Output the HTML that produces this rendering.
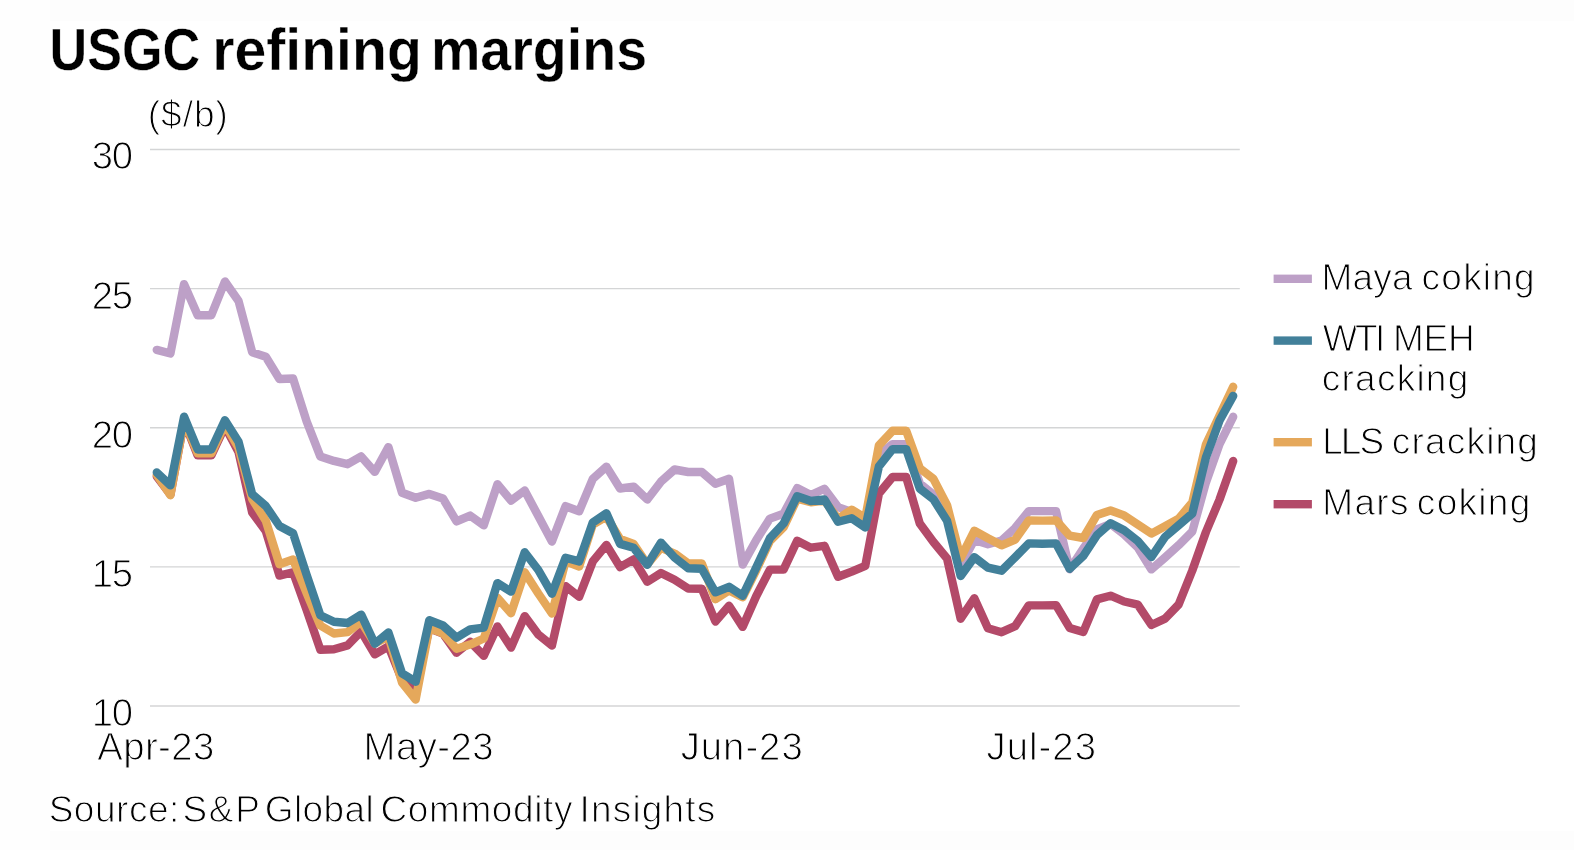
<!DOCTYPE html>
<html lang="en">
<head>
<meta charset="utf-8">
<title>USGC refining margins</title>
<style>
html,body{margin:0;padding:0;}
body{width:1574px;height:850px;overflow:hidden;background:#fefefe;font-family:"Liberation Sans",sans-serif;}
#wrap{position:absolute;left:0;top:0;width:1574px;height:850px;will-change:transform;}
#chart{position:absolute;left:0;top:0;width:1574px;height:850px;display:block;}
#chart text{font-family:"Liberation Sans",sans-serif;fill:#000;}
.thin text{stroke:#fff;stroke-width:1.1px;}
.title text{stroke:#fff;stroke-width:0.4px;}
.series{fill:none;stroke-linejoin:round;stroke-linecap:round;}
</style>
</head>
<body>
<div id="wrap">
<svg id="chart" width="1574" height="850" viewBox="0 0 1574 850">
<rect x="50" y="0" width="1524" height="850" fill="#fdfdfd"/>
<rect x="50" y="21" width="1524" height="810" fill="#ffffff"/>
<g class="title"><text x="49.6" y="69.6" font-size="58.8" font-weight="bold" textLength="150.6" lengthAdjust="spacingAndGlyphs">USGC</text><text x="212.3" y="69.6" font-size="58.8" font-weight="bold" textLength="209.5" lengthAdjust="spacingAndGlyphs">refining</text><text x="430.9" y="69.6" font-size="58.8" font-weight="bold" textLength="216.2" lengthAdjust="spacingAndGlyphs">margins</text></g>
<g stroke="#d4d5d6" stroke-width="1.4"><line x1="150" y1="149.5" x2="1239.8" y2="149.5"/><line x1="150" y1="288.6" x2="1239.8" y2="288.6"/><line x1="150" y1="427.75" x2="1239.8" y2="427.75"/><line x1="150" y1="566.9" x2="1239.8" y2="566.9"/><line x1="150" y1="706.0" x2="1239.8" y2="706.0"/></g>
<g class="thin"><text x="147.8" y="126.5" font-size="37" text-anchor="start" font-weight="normal" textLength="80" lengthAdjust="spacing">($/b)</text><text x="133.0" y="169.4" font-size="38.3" text-anchor="end" font-weight="normal" textLength="41.2" lengthAdjust="spacing">30</text><text x="133.0" y="308.5" font-size="38.3" text-anchor="end" font-weight="normal" textLength="41.2" lengthAdjust="spacing">25</text><text x="133.0" y="447.65" font-size="38.3" text-anchor="end" font-weight="normal" textLength="41.2" lengthAdjust="spacing">20</text><text x="133.0" y="586.8" font-size="38.3" text-anchor="end" font-weight="normal" textLength="41.2" lengthAdjust="spacing">15</text><text x="133.0" y="725.9" font-size="38.3" text-anchor="end" font-weight="normal" textLength="41.2" lengthAdjust="spacing">10</text><text x="155.8" y="760.2" font-size="38.3" text-anchor="middle" font-weight="normal" textLength="117" lengthAdjust="spacing">Apr-23</text><text x="428.6" y="760.2" font-size="38.3" text-anchor="middle" font-weight="normal" textLength="130" lengthAdjust="spacing">May-23</text><text x="741.7" y="760.2" font-size="38.3" text-anchor="middle" font-weight="normal" textLength="122" lengthAdjust="spacing">Jun-23</text><text x="1041.2" y="760.2" font-size="38.3" text-anchor="middle" font-weight="normal" textLength="109.5" lengthAdjust="spacing">Jul-23</text><text x="48.65" y="822" font-size="37" text-anchor="start" font-weight="normal" textLength="130.75" lengthAdjust="spacing">Source:</text><text x="182.5" y="822" font-size="37" text-anchor="start" font-weight="normal" textLength="77.4" lengthAdjust="spacing">S&amp;P</text><text x="264.8" y="822" font-size="37" text-anchor="start" font-weight="normal" textLength="108.95" lengthAdjust="spacing">Global</text><text x="380.4" y="822" font-size="37" text-anchor="start" font-weight="normal" textLength="192.1" lengthAdjust="spacing">Commodity</text><text x="579.6" y="822" font-size="37" text-anchor="start" font-weight="normal" textLength="135.65" lengthAdjust="spacing">Insights</text><text x="1321.55" y="290.3" font-size="37" text-anchor="start" font-weight="normal" textLength="91.0" lengthAdjust="spacing">Maya</text><text x="1421.6" y="290.3" font-size="37" text-anchor="start" font-weight="normal" textLength="113.1" lengthAdjust="spacing">coking</text><text x="1322.7" y="351.4" font-size="37" text-anchor="start" font-weight="normal" textLength="62.65" lengthAdjust="spacing">WTI</text><text x="1393.1" y="351.4" font-size="37" text-anchor="start" font-weight="normal" textLength="81.55" lengthAdjust="spacing">MEH</text><text x="1321.8" y="391.3" font-size="37" text-anchor="start" font-weight="normal" textLength="146.45" lengthAdjust="spacing">cracking</text><text x="1322.15" y="453.6" font-size="37" text-anchor="start" font-weight="normal" textLength="62.05" lengthAdjust="spacing">LLS</text><text x="1391.8" y="453.6" font-size="37" text-anchor="start" font-weight="normal" textLength="146.1" lengthAdjust="spacing">cracking</text><text x="1322.15" y="515.4" font-size="37" text-anchor="start" font-weight="normal" textLength="86.45" lengthAdjust="spacing">Mars</text><text x="1416.85" y="515.4" font-size="37" text-anchor="start" font-weight="normal" textLength="113.4" lengthAdjust="spacing">coking</text></g>
<rect x="1273.6" y="274.6" width="38.3" height="8.4" fill="#bda0c7"/><rect x="1273.6" y="336.4" width="38.3" height="8.4" fill="#42809a"/><rect x="1273.6" y="438.0" width="38.3" height="8.4" fill="#e5a85b"/><rect x="1273.6" y="500.0" width="38.3" height="8.4" fill="#b34a69"/>
<polyline class="series" stroke="#bda0c7" stroke-width="8.4" points="156.80,349.9 170.43,353.5 184.05,284.1 197.68,315.3 211.30,315.3 224.93,281.5 238.55,301.0 252.18,352.2 265.80,356.7 279.43,379.0 293.05,378.5 306.68,421.5 320.30,456.4 333.93,460.9 347.55,464.2 361.18,456.4 374.80,471.9 388.43,447.1 402.05,492.7 415.68,497.8 429.30,493.9 442.93,498.5 456.55,521.4 470.18,515.6 483.80,525.3 497.43,484.2 511.05,500.6 524.67,490.5 538.30,516.0 551.92,541.6 565.55,506.2 579.17,511.3 592.80,478.8 606.42,466.6 620.05,488.5 633.67,486.6 647.30,499.5 660.92,481.7 674.55,469.5 688.17,472.0 701.80,472.0 715.42,483.7 729.05,478.8 742.67,564.6 756.30,540.0 769.92,518.6 783.55,513.8 797.17,488.1 810.80,495.0 824.42,488.7 838.05,507.1 851.67,512.0 865.30,521.7 878.92,454.7 892.55,444.2 906.17,444.2 919.80,483.5 933.42,494.5 947.05,514.9 960.67,565.3 974.30,540.0 987.92,544.3 1001.55,540.5 1015.17,528.0 1028.80,511.1 1042.42,511.1 1056.05,511.1 1069.67,569.3 1083.30,548.5 1096.92,529.5 1110.55,524.0 1124.17,534.4 1137.80,547.6 1151.42,569.4 1165.05,557.5 1178.67,545.2 1192.30,531.5 1205.92,482.5 1219.55,444.0 1233.17,416.8"/>
<polyline class="series" stroke="#b34a69" stroke-width="8.4" points="156.80,476.5 170.43,494.5 184.05,421.0 197.68,455.4 211.30,455.4 224.93,426.2 238.55,452.0 252.18,512.5 265.80,531.0 279.43,575.6 293.05,572.2 306.68,610.0 320.30,649.7 333.93,649.3 347.55,645.4 361.18,631.4 374.80,654.4 388.43,646.3 402.05,680.0 415.68,687.7 429.30,628.4 442.93,633.5 456.55,652.7 470.18,641.8 483.80,655.7 497.43,626.4 511.05,647.6 524.67,616.1 538.30,634.6 551.92,645.6 565.55,586.1 579.17,596.8 592.80,561.4 606.42,544.9 620.05,567.1 633.67,559.4 647.30,581.7 660.92,573.1 674.55,579.8 688.17,588.5 701.80,588.7 715.42,621.5 729.05,605.8 742.67,626.9 756.30,596.0 769.92,569.6 783.55,569.6 797.17,540.7 810.80,547.7 824.42,545.8 838.05,576.7 851.67,571.6 865.30,565.8 878.92,493.5 892.55,477.0 906.17,477.0 919.80,523.6 933.42,542.0 947.05,558.5 960.67,618.7 974.30,598.3 987.92,628.2 1001.55,632.2 1015.17,626.1 1028.80,605.4 1042.42,605.4 1056.05,605.1 1069.67,627.9 1083.30,632.0 1096.92,599.4 1110.55,595.7 1124.17,601.5 1137.80,604.6 1151.42,625.0 1165.05,618.6 1178.67,604.5 1192.30,570.5 1205.92,532.0 1219.55,499.5 1233.17,461.0"/>
<polyline class="series" stroke="#e5a85b" stroke-width="8.4" points="156.80,474.8 170.43,495.2 184.05,420.4 197.68,453.4 211.30,453.4 224.93,424.3 238.55,448.0 252.18,499.0 265.80,520.7 279.43,564.2 293.05,559.5 306.68,593.2 320.30,625.5 333.93,633.5 347.55,632.1 361.18,621.7 374.80,643.5 388.43,636.5 402.05,682.5 415.68,699.5 429.30,628.1 442.93,633.3 456.55,648.8 470.18,644.6 483.80,638.5 497.43,597.8 511.05,613.2 524.67,572.3 538.30,593.5 551.92,613.5 565.55,561.4 579.17,566.5 592.80,524.5 606.42,516.7 620.05,539.0 633.67,544.0 647.30,564.3 660.92,547.8 674.55,553.5 688.17,563.5 701.80,563.5 715.42,599.2 729.05,590.4 742.67,597.3 756.30,570.0 769.92,541.0 783.55,527.4 797.17,498.7 810.80,502.3 824.42,500.5 838.05,518.7 851.67,509.7 865.30,517.8 878.92,445.3 892.55,430.8 906.17,430.8 919.80,468.3 933.42,478.9 947.05,505.1 960.67,558.0 974.30,530.8 987.92,538.3 1001.55,545.3 1015.17,539.6 1028.80,520.4 1042.42,520.6 1056.05,520.4 1069.67,535.7 1083.30,538.0 1096.92,514.9 1110.55,510.5 1124.17,515.4 1137.80,524.5 1151.42,533.6 1165.05,526.2 1178.67,518.7 1192.30,502.5 1205.92,444.5 1219.55,415.5 1233.17,386.8"/>
<polyline class="series" stroke="#42809a" stroke-width="8.4" points="156.80,472.5 170.43,485.4 184.05,416.7 197.68,449.5 211.30,449.5 224.93,420.3 238.55,441.7 252.18,494.2 265.80,506.0 279.43,526.0 293.05,533.3 306.68,575.0 320.30,615.2 333.93,621.7 347.55,623.0 361.18,614.6 374.80,643.7 388.43,632.5 402.05,673.4 415.68,681.7 429.30,620.2 442.93,625.5 456.55,637.7 470.18,629.4 483.80,627.6 497.43,583.1 511.05,591.6 524.67,552.3 538.30,570.0 551.92,593.7 565.55,557.8 579.17,561.4 592.80,522.5 606.42,513.3 620.05,543.9 633.67,547.8 647.30,564.8 660.92,542.6 674.55,557.5 688.17,568.2 701.80,568.8 715.42,592.3 729.05,586.8 742.67,595.8 756.30,567.4 769.92,538.2 783.55,523.5 797.17,496.2 810.80,501.0 824.42,499.5 838.05,521.7 851.67,518.3 865.30,527.5 878.92,466.3 892.55,449.2 906.17,449.2 919.80,488.6 933.42,499.3 947.05,520.7 960.67,576.0 974.30,557.2 987.92,567.6 1001.55,570.7 1015.17,557.2 1028.80,543.4 1042.42,543.7 1056.05,543.4 1069.67,568.8 1083.30,556.0 1096.92,535.2 1110.55,523.2 1124.17,530.3 1137.80,541.0 1151.42,557.0 1165.05,536.9 1178.67,525.3 1192.30,513.5 1205.92,457.5 1219.55,420.5 1233.17,395.9"/>
</svg>
</div>
</body>
</html>
